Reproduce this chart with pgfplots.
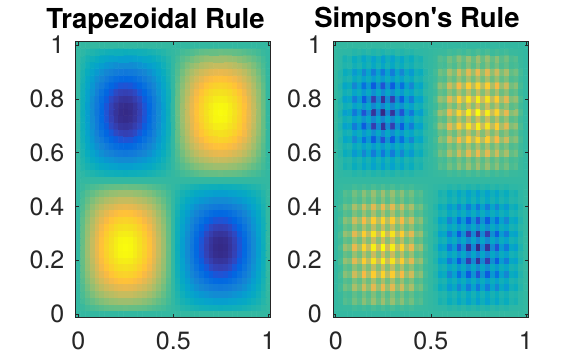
\documentclass[border=0pt]{standalone}
\usepackage{pgfplots}
\pgfplotsset{compat=1.18}
\usepackage{fontspec}
\newfontfamily\hv{TeX Gyre Heros}
\definecolor{axc}{gray}{0.15}
\pgfplotsset{
  colormap={parula}{rgb=(0.2081,0.1663,0.5292) rgb=(0.2116,0.1898,0.5777) rgb=(0.2123,0.2138,0.6270) rgb=(0.2081,0.2386,0.6771) rgb=(0.1959,0.2645,0.7279) rgb=(0.1707,0.2919,0.7792) rgb=(0.1253,0.3242,0.8303) rgb=(0.0591,0.3598,0.8683) rgb=(0.0117,0.3875,0.8820) rgb=(0.0060,0.4086,0.8828) rgb=(0.0165,0.4266,0.8786) rgb=(0.0329,0.4430,0.8720) rgb=(0.0498,0.4586,0.8641) rgb=(0.0629,0.4737,0.8554) rgb=(0.0723,0.4887,0.8467) rgb=(0.0779,0.5040,0.8384) rgb=(0.0793,0.5200,0.8312) rgb=(0.0749,0.5375,0.8263) rgb=(0.0641,0.5570,0.8240) rgb=(0.0488,0.5772,0.8228) rgb=(0.0343,0.5966,0.8199) rgb=(0.0265,0.6137,0.8135) rgb=(0.0239,0.6287,0.8038) rgb=(0.0231,0.6418,0.7913) rgb=(0.0228,0.6535,0.7768) rgb=(0.0267,0.6642,0.7607) rgb=(0.0384,0.6743,0.7436) rgb=(0.0590,0.6838,0.7254) rgb=(0.0843,0.6928,0.7062) rgb=(0.1133,0.7015,0.6859) rgb=(0.1453,0.7098,0.6646) rgb=(0.1801,0.7177,0.6424) rgb=(0.2178,0.7250,0.6193) rgb=(0.2586,0.7317,0.5954) rgb=(0.3022,0.7376,0.5712) rgb=(0.3482,0.7424,0.5473) rgb=(0.3953,0.7459,0.5244) rgb=(0.4420,0.7481,0.5033) rgb=(0.4871,0.7491,0.4840) rgb=(0.5300,0.7491,0.4661) rgb=(0.5709,0.7485,0.4494) rgb=(0.6099,0.7473,0.4337) rgb=(0.6473,0.7456,0.4188) rgb=(0.6834,0.7435,0.4044) rgb=(0.7184,0.7411,0.3905) rgb=(0.7525,0.7384,0.3768) rgb=(0.7858,0.7356,0.3633) rgb=(0.8185,0.7327,0.3498) rgb=(0.8507,0.7299,0.3360) rgb=(0.8824,0.7274,0.3217) rgb=(0.9139,0.7258,0.3063) rgb=(0.9450,0.7261,0.2886) rgb=(0.9739,0.7314,0.2666) rgb=(0.9938,0.7455,0.2403) rgb=(0.9990,0.7653,0.2164) rgb=(0.9955,0.7861,0.1967) rgb=(0.9880,0.8066,0.1794) rgb=(0.9789,0.8271,0.1633) rgb=(0.9697,0.8481,0.1475) rgb=(0.9626,0.8705,0.1309) rgb=(0.9589,0.8949,0.1132) rgb=(0.9598,0.9218,0.0948) rgb=(0.9661,0.9514,0.0755) rgb=(0.9763,0.9831,0.0538)},
  every tick label/.append style={font=\hv\fontsize{25}{25}\selectfont, text=axc},
  /pgf/number format/assume math mode=true,
  myax/.style={scale only axis, width=194.8pt, height=275.6pt, anchor=south west, y dir=reverse,
    xmin=-0.0125, xmax=1.0125, ymin=-0.0125, ymax=1.0125,
    xtick={0,0.5,1}, ytick={0,0.2,0.4,0.6,0.8,1}, yticklabels={1,0.8,0.6,0.4,0.2,0},
    tick align=inside, major tick length=3pt, axis line style={axc,line width=0.9pt},
    every tick/.style={axc,line width=0.6pt},
    axis on top, point meta min=-100, point meta max=100,
    xticklabel style={yshift=-11pt}, yticklabel style={xshift=-8pt},
    enlargelimits=false, clip=true},
  mycells/.style={matrix plot, mesh/cols=41, point meta=explicit, line width=0.6pt},
}
\begin{document}
\begin{tikzpicture}[x=1pt,y=1pt]
\path[use as bounding box] (0,0) rectangle (584,357);
\begin{axis}[myax, at={(75.9pt,39.7pt)}]
\addplot[mycells] table[header=false, x expr={mod(\coordindex,41)*0.025}, y expr={1-floor(\coordindex/41)*0.025}, meta index=0]{
0
0
0
0
0
0
0
0
0
0
0
0
0
0
0
0
0
0
0
0
0
0
0
0
0
0
0
0
0
0
0
0
0
0
0
0
0
0
0
0
0
0
2
5
7
9
11
13
14
15
15
16
15
15
14
13
11
9
7
5
2
0
-2
-5
-7
-9
-11
-13
-14
-15
-15
-16
-15
-15
-14
-13
-11
-9
-7
-5
-2
0
0
5
10
14
18
22
25
28
29
31
31
31
29
28
25
22
18
14
10
5
0
-5
-10
-14
-18
-22
-25
-28
-29
-31
-31
-31
-29
-28
-25
-22
-18
-14
-10
-5
0
0
7
14
21
27
32
37
40
43
45
45
45
43
40
37
32
27
21
14
7
0
-7
-14
-21
-27
-32
-37
-40
-43
-45
-45
-45
-43
-40
-37
-32
-27
-21
-14
-7
0
0
9
18
27
35
42
48
52
56
58
59
58
56
52
48
42
35
27
18
9
0
-9
-18
-27
-35
-42
-48
-52
-56
-58
-59
-58
-56
-52
-48
-42
-35
-27
-18
-9
0
0
11
22
32
42
50
57
63
67
70
71
70
67
63
57
50
42
32
22
11
0
-11
-22
-32
-42
-50
-57
-63
-67
-70
-71
-70
-67
-63
-57
-50
-42
-32
-22
-11
0
0
13
25
37
48
57
65
72
77
80
81
80
77
72
65
57
48
37
25
13
0
-13
-25
-37
-48
-57
-65
-72
-77
-80
-81
-80
-77
-72
-65
-57
-48
-37
-25
-13
0
0
14
28
40
52
63
72
79
85
88
89
88
85
79
72
63
52
40
28
14
0
-14
-28
-40
-52
-63
-72
-79
-85
-88
-89
-88
-85
-79
-72
-63
-52
-40
-28
-14
0
0
15
29
43
56
67
77
85
90
94
95
94
90
85
77
67
56
43
29
15
0
-15
-29
-43
-56
-67
-77
-85
-90
-94
-95
-94
-90
-85
-77
-67
-56
-43
-29
-15
0
0
15
31
45
58
70
80
88
94
98
99
98
94
88
80
70
58
45
31
15
0
-15
-31
-45
-58
-70
-80
-88
-94
-98
-99
-98
-94
-88
-80
-70
-58
-45
-31
-15
0
0
16
31
45
59
71
81
89
95
99
100
99
95
89
81
71
59
45
31
16
0
-16
-31
-45
-59
-71
-81
-89
-95
-99
-100
-99
-95
-89
-81
-71
-59
-45
-31
-16
0
0
15
31
45
58
70
80
88
94
98
99
98
94
88
80
70
58
45
31
15
0
-15
-31
-45
-58
-70
-80
-88
-94
-98
-99
-98
-94
-88
-80
-70
-58
-45
-31
-15
0
0
15
29
43
56
67
77
85
90
94
95
94
90
85
77
67
56
43
29
15
0
-15
-29
-43
-56
-67
-77
-85
-90
-94
-95
-94
-90
-85
-77
-67
-56
-43
-29
-15
0
0
14
28
40
52
63
72
79
85
88
89
88
85
79
72
63
52
40
28
14
0
-14
-28
-40
-52
-63
-72
-79
-85
-88
-89
-88
-85
-79
-72
-63
-52
-40
-28
-14
0
0
13
25
37
48
57
65
72
77
80
81
80
77
72
65
57
48
37
25
13
0
-13
-25
-37
-48
-57
-65
-72
-77
-80
-81
-80
-77
-72
-65
-57
-48
-37
-25
-13
0
0
11
22
32
42
50
57
63
67
70
71
70
67
63
57
50
42
32
22
11
0
-11
-22
-32
-42
-50
-57
-63
-67
-70
-71
-70
-67
-63
-57
-50
-42
-32
-22
-11
0
0
9
18
27
35
42
48
52
56
58
59
58
56
52
48
42
35
27
18
9
0
-9
-18
-27
-35
-42
-48
-52
-56
-58
-59
-58
-56
-52
-48
-42
-35
-27
-18
-9
0
0
7
14
21
27
32
37
40
43
45
45
45
43
40
37
32
27
21
14
7
0
-7
-14
-21
-27
-32
-37
-40
-43
-45
-45
-45
-43
-40
-37
-32
-27
-21
-14
-7
0
0
5
10
14
18
22
25
28
29
31
31
31
29
28
25
22
18
14
10
5
0
-5
-10
-14
-18
-22
-25
-28
-29
-31
-31
-31
-29
-28
-25
-22
-18
-14
-10
-5
0
0
2
5
7
9
11
13
14
15
15
16
15
15
14
13
11
9
7
5
2
0
-2
-5
-7
-9
-11
-13
-14
-15
-15
-16
-15
-15
-14
-13
-11
-9
-7
-5
-2
0
0
0
0
0
0
0
0
0
0
0
0
0
0
0
0
0
0
0
0
0
0
0
0
0
0
0
0
0
0
0
0
0
0
0
0
0
0
0
0
0
0
0
-2
-5
-7
-9
-11
-13
-14
-15
-15
-16
-15
-15
-14
-13
-11
-9
-7
-5
-2
0
2
5
7
9
11
13
14
15
15
16
15
15
14
13
11
9
7
5
2
0
0
-5
-10
-14
-18
-22
-25
-28
-29
-31
-31
-31
-29
-28
-25
-22
-18
-14
-10
-5
0
5
10
14
18
22
25
28
29
31
31
31
29
28
25
22
18
14
10
5
0
0
-7
-14
-21
-27
-32
-37
-40
-43
-45
-45
-45
-43
-40
-37
-32
-27
-21
-14
-7
0
7
14
21
27
32
37
40
43
45
45
45
43
40
37
32
27
21
14
7
0
0
-9
-18
-27
-35
-42
-48
-52
-56
-58
-59
-58
-56
-52
-48
-42
-35
-27
-18
-9
0
9
18
27
35
42
48
52
56
58
59
58
56
52
48
42
35
27
18
9
0
0
-11
-22
-32
-42
-50
-57
-63
-67
-70
-71
-70
-67
-63
-57
-50
-42
-32
-22
-11
0
11
22
32
42
50
57
63
67
70
71
70
67
63
57
50
42
32
22
11
0
0
-13
-25
-37
-48
-57
-65
-72
-77
-80
-81
-80
-77
-72
-65
-57
-48
-37
-25
-13
0
13
25
37
48
57
65
72
77
80
81
80
77
72
65
57
48
37
25
13
0
0
-14
-28
-40
-52
-63
-72
-79
-85
-88
-89
-88
-85
-79
-72
-63
-52
-40
-28
-14
0
14
28
40
52
63
72
79
85
88
89
88
85
79
72
63
52
40
28
14
0
0
-15
-29
-43
-56
-67
-77
-85
-90
-94
-95
-94
-90
-85
-77
-67
-56
-43
-29
-15
0
15
29
43
56
67
77
85
90
94
95
94
90
85
77
67
56
43
29
15
0
0
-15
-31
-45
-58
-70
-80
-88
-94
-98
-99
-98
-94
-88
-80
-70
-58
-45
-31
-15
0
15
31
45
58
70
80
88
94
98
99
98
94
88
80
70
58
45
31
15
0
0
-16
-31
-45
-59
-71
-81
-89
-95
-99
-100
-99
-95
-89
-81
-71
-59
-45
-31
-16
0
16
31
45
59
71
81
89
95
99
100
99
95
89
81
71
59
45
31
16
0
0
-15
-31
-45
-58
-70
-80
-88
-94
-98
-99
-98
-94
-88
-80
-70
-58
-45
-31
-15
0
15
31
45
58
70
80
88
94
98
99
98
94
88
80
70
58
45
31
15
0
0
-15
-29
-43
-56
-67
-77
-85
-90
-94
-95
-94
-90
-85
-77
-67
-56
-43
-29
-15
0
15
29
43
56
67
77
85
90
94
95
94
90
85
77
67
56
43
29
15
0
0
-14
-28
-40
-52
-63
-72
-79
-85
-88
-89
-88
-85
-79
-72
-63
-52
-40
-28
-14
0
14
28
40
52
63
72
79
85
88
89
88
85
79
72
63
52
40
28
14
0
0
-13
-25
-37
-48
-57
-65
-72
-77
-80
-81
-80
-77
-72
-65
-57
-48
-37
-25
-13
0
13
25
37
48
57
65
72
77
80
81
80
77
72
65
57
48
37
25
13
0
0
-11
-22
-32
-42
-50
-57
-63
-67
-70
-71
-70
-67
-63
-57
-50
-42
-32
-22
-11
0
11
22
32
42
50
57
63
67
70
71
70
67
63
57
50
42
32
22
11
0
0
-9
-18
-27
-35
-42
-48
-52
-56
-58
-59
-58
-56
-52
-48
-42
-35
-27
-18
-9
0
9
18
27
35
42
48
52
56
58
59
58
56
52
48
42
35
27
18
9
0
0
-7
-14
-21
-27
-32
-37
-40
-43
-45
-45
-45
-43
-40
-37
-32
-27
-21
-14
-7
0
7
14
21
27
32
37
40
43
45
45
45
43
40
37
32
27
21
14
7
0
0
-5
-10
-14
-18
-22
-25
-28
-29
-31
-31
-31
-29
-28
-25
-22
-18
-14
-10
-5
0
5
10
14
18
22
25
28
29
31
31
31
29
28
25
22
18
14
10
5
0
0
-2
-5
-7
-9
-11
-13
-14
-15
-15
-16
-15
-15
-14
-13
-11
-9
-7
-5
-2
0
2
5
7
9
11
13
14
15
15
16
15
15
14
13
11
9
7
5
2
0
0
0
0
0
0
0
0
0
0
0
0
0
0
0
0
0
0
0
0
0
0
0
0
0
0
0
0
0
0
0
0
0
0
0
0
0
0
0
0
0
0
};
\end{axis}
\begin{axis}[myax, at={(333.4pt,39.7pt)}]
\addplot[mycells] table[header=false, x expr={mod(\coordindex,41)*0.025}, y expr={1-floor(\coordindex/41)*0.025}, meta index=0]{
0
0
0
0
0
0
0
0
0
0
0
0
0
0
0
0
0
0
0
0
0
0
0
0
0
0
0
0
0
0
0
0
0
0
0
0
0
0
0
0
0
0
1
2
2
5
3
6
3
7
4
8
4
7
3
6
3
5
2
2
1
0
-1
-2
-2
-5
-3
-6
-3
-7
-4
-8
-4
-7
-3
-6
-3
-5
-2
-2
-1
0
0
2
10
7
18
11
25
14
29
15
31
15
29
14
25
11
18
7
10
2
0
-2
-10
-7
-18
-11
-25
-14
-29
-15
-31
-15
-29
-14
-25
-11
-18
-7
-10
-2
0
0
2
7
5
13
8
18
10
22
11
23
11
22
10
18
8
13
5
7
2
0
-2
-7
-5
-13
-8
-18
-10
-22
-11
-23
-11
-22
-10
-18
-8
-13
-5
-7
-2
0
0
5
18
13
35
21
48
26
56
29
59
29
56
26
48
21
35
13
18
5
0
-5
-18
-13
-35
-21
-48
-26
-56
-29
-59
-29
-56
-26
-48
-21
-35
-13
-18
-5
0
0
3
11
8
21
13
29
16
34
17
35
17
34
16
29
13
21
8
11
3
0
-3
-11
-8
-21
-13
-29
-16
-34
-17
-35
-17
-34
-16
-29
-13
-21
-8
-11
-3
0
0
6
25
18
48
29
65
36
77
40
81
40
77
36
65
29
48
18
25
6
0
-6
-25
-18
-48
-29
-65
-36
-77
-40
-81
-40
-77
-36
-65
-29
-48
-18
-25
-6
0
0
3
14
10
26
16
36
20
42
22
45
22
42
20
36
16
26
10
14
3
0
-3
-14
-10
-26
-16
-36
-20
-42
-22
-45
-22
-42
-20
-36
-16
-26
-10
-14
-3
0
0
7
29
22
56
34
77
42
90
47
95
47
90
42
77
34
56
22
29
7
0
-7
-29
-22
-56
-34
-77
-42
-90
-47
-95
-47
-90
-42
-77
-34
-56
-22
-29
-7
0
0
4
15
11
29
17
40
22
47
24
49
24
47
22
40
17
29
11
15
4
0
-4
-15
-11
-29
-17
-40
-22
-47
-24
-49
-24
-47
-22
-40
-17
-29
-11
-15
-4
0
0
8
31
23
59
35
81
45
95
49
100
49
95
45
81
35
59
23
31
8
0
-8
-31
-23
-59
-35
-81
-45
-95
-49
-100
-49
-95
-45
-81
-35
-59
-23
-31
-8
0
0
4
15
11
29
17
40
22
47
24
49
24
47
22
40
17
29
11
15
4
0
-4
-15
-11
-29
-17
-40
-22
-47
-24
-49
-24
-47
-22
-40
-17
-29
-11
-15
-4
0
0
7
29
22
56
34
77
42
90
47
95
47
90
42
77
34
56
22
29
7
0
-7
-29
-22
-56
-34
-77
-42
-90
-47
-95
-47
-90
-42
-77
-34
-56
-22
-29
-7
0
0
3
14
10
26
16
36
20
42
22
45
22
42
20
36
16
26
10
14
3
0
-3
-14
-10
-26
-16
-36
-20
-42
-22
-45
-22
-42
-20
-36
-16
-26
-10
-14
-3
0
0
6
25
18
48
29
65
36
77
40
81
40
77
36
65
29
48
18
25
6
0
-6
-25
-18
-48
-29
-65
-36
-77
-40
-81
-40
-77
-36
-65
-29
-48
-18
-25
-6
0
0
3
11
8
21
13
29
16
34
17
35
17
34
16
29
13
21
8
11
3
0
-3
-11
-8
-21
-13
-29
-16
-34
-17
-35
-17
-34
-16
-29
-13
-21
-8
-11
-3
0
0
5
18
13
35
21
48
26
56
29
59
29
56
26
48
21
35
13
18
5
0
-5
-18
-13
-35
-21
-48
-26
-56
-29
-59
-29
-56
-26
-48
-21
-35
-13
-18
-5
0
0
2
7
5
13
8
18
10
22
11
23
11
22
10
18
8
13
5
7
2
0
-2
-7
-5
-13
-8
-18
-10
-22
-11
-23
-11
-22
-10
-18
-8
-13
-5
-7
-2
0
0
2
10
7
18
11
25
14
29
15
31
15
29
14
25
11
18
7
10
2
0
-2
-10
-7
-18
-11
-25
-14
-29
-15
-31
-15
-29
-14
-25
-11
-18
-7
-10
-2
0
0
1
2
2
5
3
6
3
7
4
8
4
7
3
6
3
5
2
2
1
0
-1
-2
-2
-5
-3
-6
-3
-7
-4
-8
-4
-7
-3
-6
-3
-5
-2
-2
-1
0
0
0
0
0
0
0
0
0
0
0
0
0
0
0
0
0
0
0
0
0
0
0
0
0
0
0
0
0
0
0
0
0
0
0
0
0
0
0
0
0
0
0
-1
-2
-2
-5
-3
-6
-3
-7
-4
-8
-4
-7
-3
-6
-3
-5
-2
-2
-1
0
1
2
2
5
3
6
3
7
4
8
4
7
3
6
3
5
2
2
1
0
0
-2
-10
-7
-18
-11
-25
-14
-29
-15
-31
-15
-29
-14
-25
-11
-18
-7
-10
-2
0
2
10
7
18
11
25
14
29
15
31
15
29
14
25
11
18
7
10
2
0
0
-2
-7
-5
-13
-8
-18
-10
-22
-11
-23
-11
-22
-10
-18
-8
-13
-5
-7
-2
0
2
7
5
13
8
18
10
22
11
23
11
22
10
18
8
13
5
7
2
0
0
-5
-18
-13
-35
-21
-48
-26
-56
-29
-59
-29
-56
-26
-48
-21
-35
-13
-18
-5
0
5
18
13
35
21
48
26
56
29
59
29
56
26
48
21
35
13
18
5
0
0
-3
-11
-8
-21
-13
-29
-16
-34
-17
-35
-17
-34
-16
-29
-13
-21
-8
-11
-3
0
3
11
8
21
13
29
16
34
17
35
17
34
16
29
13
21
8
11
3
0
0
-6
-25
-18
-48
-29
-65
-36
-77
-40
-81
-40
-77
-36
-65
-29
-48
-18
-25
-6
0
6
25
18
48
29
65
36
77
40
81
40
77
36
65
29
48
18
25
6
0
0
-3
-14
-10
-26
-16
-36
-20
-42
-22
-45
-22
-42
-20
-36
-16
-26
-10
-14
-3
0
3
14
10
26
16
36
20
42
22
45
22
42
20
36
16
26
10
14
3
0
0
-7
-29
-22
-56
-34
-77
-42
-90
-47
-95
-47
-90
-42
-77
-34
-56
-22
-29
-7
0
7
29
22
56
34
77
42
90
47
95
47
90
42
77
34
56
22
29
7
0
0
-4
-15
-11
-29
-17
-40
-22
-47
-24
-49
-24
-47
-22
-40
-17
-29
-11
-15
-4
0
4
15
11
29
17
40
22
47
24
49
24
47
22
40
17
29
11
15
4
0
0
-8
-31
-23
-59
-35
-81
-45
-95
-49
-100
-49
-95
-45
-81
-35
-59
-23
-31
-8
0
8
31
23
59
35
81
45
95
49
100
49
95
45
81
35
59
23
31
8
0
0
-4
-15
-11
-29
-17
-40
-22
-47
-24
-49
-24
-47
-22
-40
-17
-29
-11
-15
-4
0
4
15
11
29
17
40
22
47
24
49
24
47
22
40
17
29
11
15
4
0
0
-7
-29
-22
-56
-34
-77
-42
-90
-47
-95
-47
-90
-42
-77
-34
-56
-22
-29
-7
0
7
29
22
56
34
77
42
90
47
95
47
90
42
77
34
56
22
29
7
0
0
-3
-14
-10
-26
-16
-36
-20
-42
-22
-45
-22
-42
-20
-36
-16
-26
-10
-14
-3
0
3
14
10
26
16
36
20
42
22
45
22
42
20
36
16
26
10
14
3
0
0
-6
-25
-18
-48
-29
-65
-36
-77
-40
-81
-40
-77
-36
-65
-29
-48
-18
-25
-6
0
6
25
18
48
29
65
36
77
40
81
40
77
36
65
29
48
18
25
6
0
0
-3
-11
-8
-21
-13
-29
-16
-34
-17
-35
-17
-34
-16
-29
-13
-21
-8
-11
-3
0
3
11
8
21
13
29
16
34
17
35
17
34
16
29
13
21
8
11
3
0
0
-5
-18
-13
-35
-21
-48
-26
-56
-29
-59
-29
-56
-26
-48
-21
-35
-13
-18
-5
0
5
18
13
35
21
48
26
56
29
59
29
56
26
48
21
35
13
18
5
0
0
-2
-7
-5
-13
-8
-18
-10
-22
-11
-23
-11
-22
-10
-18
-8
-13
-5
-7
-2
0
2
7
5
13
8
18
10
22
11
23
11
22
10
18
8
13
5
7
2
0
0
-2
-10
-7
-18
-11
-25
-14
-29
-15
-31
-15
-29
-14
-25
-11
-18
-7
-10
-2
0
2
10
7
18
11
25
14
29
15
31
15
29
14
25
11
18
7
10
2
0
0
-1
-2
-2
-5
-3
-6
-3
-7
-4
-8
-4
-7
-3
-6
-3
-5
-2
-2
-1
0
1
2
2
5
3
6
3
7
4
8
4
7
3
6
3
5
2
2
1
0
0
0
0
0
0
0
0
0
0
0
0
0
0
0
0
0
0
0
0
0
0
0
0
0
0
0
0
0
0
0
0
0
0
0
0
0
0
0
0
0
0
};
\end{axis}
\node[anchor=base, font=\hv\bfseries\fontsize{27.5}{27.5}\selectfont, inner sep=0pt] at (155.5,328.5) {Trapezoidal Rule};
\node[anchor=base, font=\hv\bfseries\fontsize{27.5}{27.5}\selectfont, inner sep=0pt] at (417,329) {Simpson's Rule};
\end{tikzpicture}
\end{document}
